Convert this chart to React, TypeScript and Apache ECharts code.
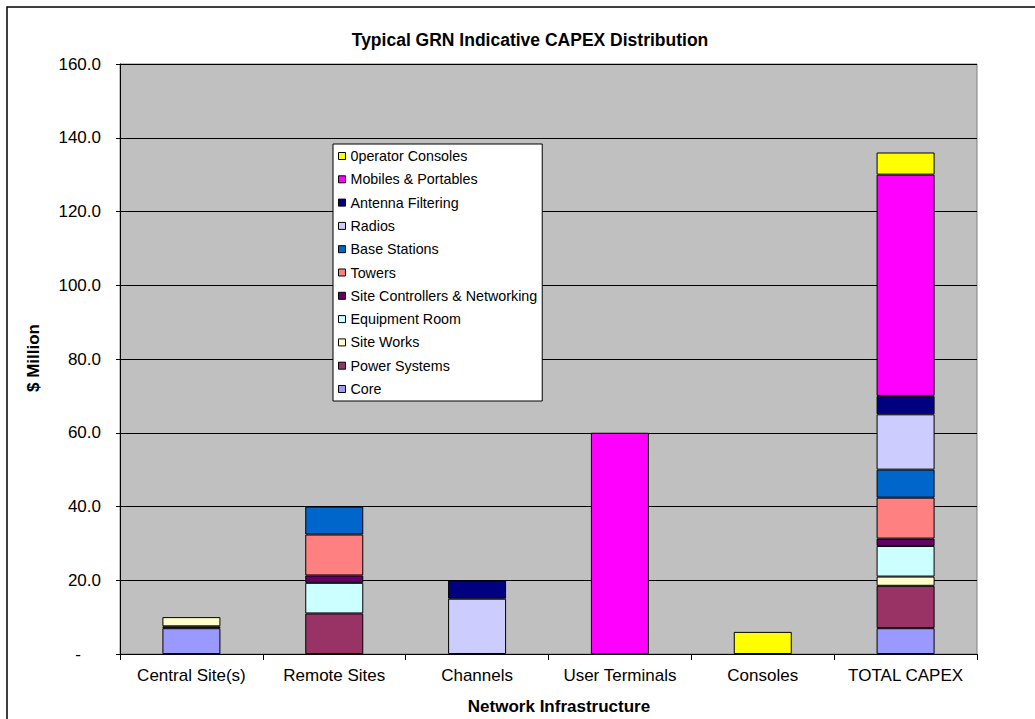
import React, { useEffect, useRef } from "react";
import * as echarts from "echarts";

const categories = ["Central Site(s)", "Remote Sites", "Channels", "User Terminals", "Consoles", "TOTAL CAPEX"];
const yTicks = [0, 20, 40, 60, 80, 100, 120, 140, 160];

const core = [7.0, null, null, null, null, 7.0];
const powerSystems = [0.5, 11.0, null, null, null, 11.5];
const siteWorks = [2.5, null, null, null, null, 2.5];
const equipmentRoom = [null, 8.3, null, null, null, 8.3];
const siteControllers = [null, 2.0, null, null, null, 2.0];
const towers = [null, 11.1, null, null, null, 11.1];
const baseStations = [null, 7.6, null, null, null, 7.6];
const radios = [null, null, 15.0, null, null, 15.0];
const antennaFiltering = [null, null, 5.0, null, null, 5.0];
const mobilesPortables = [null, null, null, 60.0, null, 60.0];
const operatorConsoles = [null, null, null, null, 6.0, 6.0];

const seriesNames = [
  "Core",
  "Power Systems",
  "Site Works",
  "Equipment Room",
  "Site Controllers & Networking",
  "Towers",
  "Base Stations",
  "Radios",
  "Antenna Filtering",
  "Mobiles & Portables",
  "0perator Consoles",
];
const seriesData = [
  core,
  powerSystems,
  siteWorks,
  equipmentRoom,
  siteControllers,
  towers,
  baseStations,
  radios,
  antennaFiltering,
  mobilesPortables,
  operatorConsoles,
];
const seriesColors = [
  "#9999FF",
  "#993366",
  "#FFFFCC",
  "#CCFFFF",
  "#660066",
  "#FF8080",
  "#0066CC",
  "#CCCCFF",
  "#000080",
  "#FF00FF",
  "#FFFF00",
];

const FONT = "'Liberation Sans', Arial, sans-serif";

export default function App() {
  const ref = useRef<HTMLDivElement>(null);

  useEffect(() => {
    document.body.style.margin = "0";
    document.body.style.overflow = "hidden";
    const chart = echarts.init(ref.current!, null, { renderer: "svg" });
    const option: any = {
      animation: false,
      backgroundColor: "#FFFFFF",
      textStyle: { fontFamily: FONT },
      title: {
        text: "Typical GRN Indicative CAPEX Distribution",
        left: 525,
        top: 26,
        textAlign: "center",
        textStyle: { fontFamily: FONT, fontSize: 17.5, fontWeight: "bold", color: "#000" },
      },
      graphic: [
        {
          type: "rect",
          shape: { x: 7, y: 7, width: 1200, height: 900 },
          style: { fill: "none", stroke: "#000", lineWidth: 1.5 },
          silent: true,
          z: 100,
        },
        {
          type: "text",
          x: 559,
          y: 706,
          style: {
            text: "Network Infrastructure",
            font: `bold 17px ${FONT}`,
            fill: "#000",
            align: "center",
            verticalAlign: "middle",
          },
        },
        {
          type: "text",
          x: 33,
          y: 358,
          rotation: Math.PI / 2,
          style: {
            text: "$ Million",
            font: `bold 17px ${FONT}`,
            fill: "#000",
            align: "center",
            verticalAlign: "middle",
          },
        },
      ],
      legend: {
        data: [...seriesNames].reverse(),
        orient: "vertical",
        left: 333,
        top: 144,
        padding: [4, 5, 4, 5],
        itemGap: 7.3,
        itemWidth: 7,
        itemHeight: 7,
        icon: "rect",
        backgroundColor: "#FFFFFF",
        borderColor: "#000",
        borderWidth: 1,
        itemStyle: { borderColor: "#000", borderWidth: 1 },
        textStyle: { fontFamily: FONT, fontSize: 14.3, color: "#000", lineHeight: 16, padding: [0, 0, 0, 0] },
      },
      grid: {
        left: 120,
        right: 58,
        top: 64,
        bottom: 65,
        show: true,
        backgroundColor: "#C0C0C0",
        borderColor: "#808080",
        borderWidth: 1,
      },
      xAxis: {
        type: "category",
        data: categories,
        axisLine: { lineStyle: { color: "#000", width: 1 } },
        axisTick: { show: true, length: 6, lineStyle: { color: "#000" } },
        axisLabel: { fontFamily: FONT, fontSize: 17, color: "#000", margin: 13, interval: 0 },
      },
      yAxis: {
        type: "value",
        min: 0,
        max: 160,
        interval: 20,
        axisLine: { show: true, lineStyle: { color: "#000", width: 1 } },
        axisTick: { show: true, length: 4, lineStyle: { color: "#000" } },
        splitLine: { show: true, lineStyle: { color: "#000", width: 1 } },
        axisLabel: {
          fontFamily: FONT,
          fontSize: 17,
          color: "#000",
          margin: 19,
          formatter: (v: number) => (yTicks.includes(v) && v === 0 ? "{dash|-}" : v.toFixed(1)),
          rich: { dash: { fontFamily: FONT, fontSize: 17, color: "#000", padding: [0, 20, 0, 0] } },
        },
      },
      series: seriesNames.map((name, i) => ({
        name,
        type: "bar",
        stack: "capex",
        barWidth: 58,
        data: seriesData[i],
        itemStyle: { color: seriesColors[i], borderColor: "#000", borderWidth: 1 },
      })),
    };
    chart.setOption(option);
    return () => chart.dispose();
  }, []);

  return <div ref={ref} style={{ width: 1035, height: 719 }} />;
}
